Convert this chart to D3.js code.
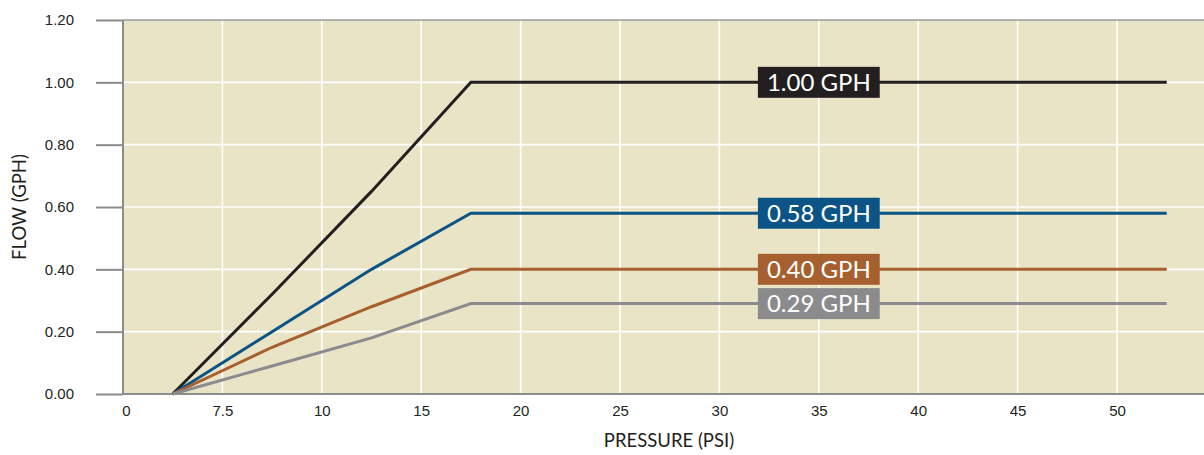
<!DOCTYPE html>
<html lang="en">
<head>
    <meta charset="UTF-8">
    <title>Flow vs Pressure</title>
    <script src="https://d3js.org/d3.v7.min.js"></script>
    <style>
        body { margin: 0; background: #fff; }
        svg { display: block; font-family: Lato, "Liberation Sans", sans-serif; }
        .tick text { font-size: 15px; fill: #231f20; }
        .axis-title { font-size: 18.5px; fill: #231f20; }
        .gph-label { font-size: 24px; fill: #fff; }
    </style>
</head>
<body>
<script>
// Data
const xTickValues = [0, 7.5, 10, 15, 20, 25, 30, 35, 40, 45, 50];
const yTickValues = [0, 0.2, 0.4, 0.6, 0.8, 1.0, 1.2];

const pressure = [3.75, 8.75, 12.5, 17.5, 52.5];
const flow100 = [0, 0.32, 0.65, 1.00, 1.00];
const flow058 = [0, 0.20, 0.40, 0.58, 0.58];
const flow040 = [0, 0.15, 0.28, 0.40, 0.40];
const flow029 = [0, 0.09, 0.18, 0.29, 0.29];

const seriesNames = ["1.00 GPH", "0.58 GPH", "0.40 GPH", "0.29 GPH"];
const seriesColors = ["#231f20", "#0b5485", "#a65f2e", "#8b8b8d"];
const labelAt = 35;

const series = [flow100, flow058, flow040, flow029].map((vals, i) => ({
    name: seriesNames[i],
    color: seriesColors[i],
    points: pressure.map((p, j) => ({p: p, f: vals[j]}))
}));

// Dimensions
const W = 1204, H = 455;
const margin = {top: 20, right: 0, bottom: 61, left: 123};
const step = 99.4;

const svg = d3.select("body").append("svg")
    .attr("width", W)
    .attr("height", H);

// Uneven pressure axis: ticks are evenly spaced
const xDomain = xTickValues.concat([55]);
const x = d3.scaleLinear()
    .domain(xDomain)
    .range(xDomain.map((d, i) => margin.left + i * step));

const y = d3.scaleLinear()
    .domain([0, 1.2])
    .range([H - margin.bottom, margin.top]);

const plotRight = W - margin.right;

// Background
svg.append("rect")
    .attr("x", margin.left)
    .attr("y", margin.top)
    .attr("width", plotRight - margin.left)
    .attr("height", y(0) - margin.top)
    .attr("fill", "#eae4c6");

// Gridlines
svg.append("g")
    .selectAll("line")
    .data(yTickValues.slice(1, -1))
    .join("line")
    .attr("x1", margin.left)
    .attr("x2", plotRight)
    .attr("y1", d => y(d))
    .attr("y2", d => y(d))
    .attr("stroke", "#fff")
    .attr("stroke-width", 1.6);

svg.append("g")
    .selectAll("line")
    .data(xTickValues.slice(1))
    .join("line")
    .attr("x1", d => x(d))
    .attr("x2", d => x(d))
    .attr("y1", margin.top)
    .attr("y2", y(0))
    .attr("stroke", "#fff")
    .attr("stroke-width", 1.6);

// Axes
const yAxis = svg.append("g")
    .attr("transform", `translate(${margin.left},0)`)
    .call(d3.axisLeft(y).tickValues(yTickValues).tickFormat(d3.format(".2f")).tickSize(27).tickPadding(22));
yAxis.select(".domain").remove();
yAxis.selectAll(".tick line").attr("stroke", "#8c8c8c").attr("stroke-width", 2);

const xAxis = svg.append("g")
    .attr("transform", `translate(0,${y(0)})`)
    .call(d3.axisBottom(x).tickValues(xTickValues).tickFormat(d => d).tickSize(0).tickPadding(11));
xAxis.select(".domain").remove();
xAxis.selectAll(".tick text").attr("dx", (d, i) => i === 0 ? 3 : 0);

// Frame lines
svg.append("line")
    .attr("x1", margin.left).attr("x2", plotRight)
    .attr("y1", y(0)).attr("y2", y(0))
    .attr("stroke", "#8c8c8c").attr("stroke-width", 2.2);
svg.append("line")
    .attr("x1", margin.left).attr("x2", margin.left)
    .attr("y1", margin.top).attr("y2", y(0) + 1)
    .attr("stroke", "#8c8c8c").attr("stroke-width", 2);
svg.append("line")
    .attr("x1", margin.left).attr("x2", plotRight)
    .attr("y1", margin.top).attr("y2", margin.top)
    .attr("stroke", "#9a9a9a").attr("stroke-width", 1.5);

// Axis titles
svg.append("text")
    .attr("class", "axis-title")
    .attr("x", 669)
    .attr("y", 447)
    .attr("text-anchor", "middle")
    .text("PRESSURE (PSI)");

svg.append("text")
    .attr("class", "axis-title")
    .attr("transform", `translate(26,${(margin.top + y(0)) / 2}) rotate(-90)`)
    .attr("text-anchor", "middle")
    .text("FLOW (GPH)");

// Lines
const line = d3.line()
    .x(d => x(d.p))
    .y(d => y(d.f));

svg.append("g")
    .selectAll("path")
    .data(series)
    .join("path")
    .attr("d", d => line(d.points))
    .attr("fill", "none")
    .attr("stroke", d => d.color)
    .attr("stroke-width", 3)
    .attr("stroke-linejoin", "miter");

// Labels on lines
const labels = svg.append("g")
    .selectAll("g")
    .data(series)
    .join("g")
    .attr("transform", d => `translate(${x(labelAt)},${y(d.points[d.points.length - 1].f)})`);

labels.append("text")
    .attr("class", "gph-label")
    .attr("text-anchor", "middle")
    .attr("dy", "0.36em")
    .text(d => d.name);

labels.each(function(d) {
    const g = d3.select(this);
    const bb = g.select("text").node().getBBox();
    g.insert("rect", "text")
        .attr("x", bb.x - 9)
        .attr("y", -15.5)
        .attr("width", bb.width + 18)
        .attr("height", 31)
        .attr("fill", d.color);
});
</script>
</body>
</html>
